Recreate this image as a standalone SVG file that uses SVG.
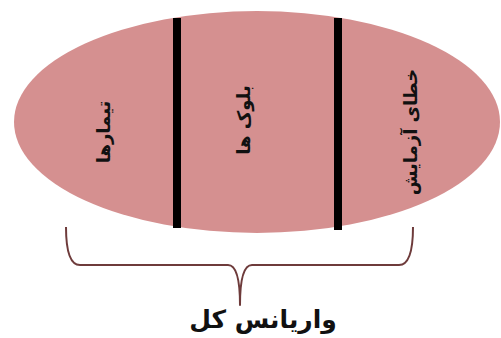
<svg xmlns="http://www.w3.org/2000/svg" width="501" height="338" viewBox="0 0 501 338">
<style>
.lbl{font-family:"DejaVu Sans","Noto Sans",sans-serif;font-weight:bold;fill:#111;text-anchor:middle;dominant-baseline:central}
.div{stroke:#000;stroke-width:8}
.brace{fill:none;stroke:#6e3b3b;stroke-width:2;stroke-linejoin:round}
</style>
<rect width="501" height="338" fill="#fff"/>
<g id="ellipse">
<ellipse cx="257" cy="122" rx="243" ry="111" fill="#d59090"/>
</g>
<g id="connectors">
<line class="div" x1="177" y1="18" x2="177" y2="228"/>
<line class="div" x1="338" y1="18" x2="338" y2="230"/>
<path class="brace" d="M66,227 Q66,265 80,265 L228,265 Q240,265 240,305 Q240,265 252,265 L399,265 Q413,265 413,227"/>
</g>
<g id="n1"><text class="lbl" font-size="18" transform="translate(103,132) rotate(-90)" direction="rtl">تیمارها</text></g>
<g id="n2"><text class="lbl" font-size="18" transform="translate(243,120) rotate(-90)" direction="rtl">بلوک ها</text></g>
<g id="n3"><text class="lbl" font-size="18" transform="translate(410,132) rotate(-90)" direction="rtl">خطای آزمایش</text></g>
<g id="total"><text class="lbl" font-size="25" x="263" y="319" direction="rtl">واریانس کل</text></g>
</svg>
